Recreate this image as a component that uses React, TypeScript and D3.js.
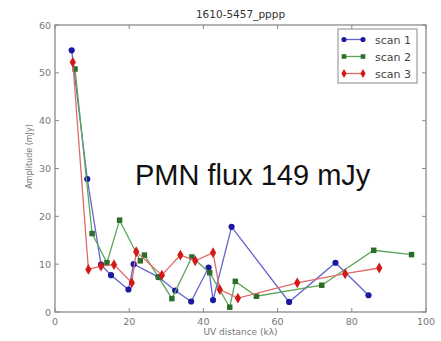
import { scaleLinear, line, symbol, symbolCircle, symbolSquare, symbolDiamond } from "d3";

const W = 441;
const H = 341;
const MARGIN = { top: 25, right: 15, bottom: 29, left: 55 };

const scan1X = [4.5, 8.7, 12.4, 15.1, 19.8, 21.2, 27.9, 32.4, 36.7, 41.4, 42.6, 47.6, 63.1, 75.6, 84.5];
const scan1Y = [54.7, 27.8, 9.9, 7.7, 4.7, 10.0, 7.3, 4.5, 2.2, 9.3, 2.5, 17.8, 2.1, 10.3, 3.5];

const scan2X = [5.4, 10.0, 14.0, 17.4, 23.0, 24.1, 27.9, 31.5, 36.9, 41.7, 47.1, 48.6, 54.3, 71.9, 85.9, 96.1];
const scan2Y = [50.8, 16.4, 10.3, 19.2, 10.7, 11.9, 7.3, 2.8, 11.5, 8.2, 1.0, 6.4, 3.3, 5.6, 12.9, 12.0];

const scan3X = [4.8, 9.0, 12.4, 15.9, 20.7, 21.9, 28.8, 33.8, 37.8, 42.6, 44.4, 49.3, 65.3, 78.2, 87.4];
const scan3Y = [52.2, 8.9, 9.6, 9.9, 6.1, 12.6, 7.7, 11.9, 10.7, 12.4, 4.7, 2.9, 6.1, 8.0, 9.2];

const xTicks = [0, 20, 40, 60, 80, 100];
const yTicks = [0, 10, 20, 30, 40, 50, 60];

const SERIES = [
  { name: "scan 1", xs: scan1X, ys: scan1Y, marker: "#1a1aa0", stroke: "#6464cc", shape: symbolCircle, size: 30 },
  { name: "scan 2", xs: scan2X, ys: scan2Y, marker: "#2a6e2a", stroke: "#5aa65a", shape: symbolSquare, size: 30 },
  { name: "scan 3", xs: scan3X, ys: scan3Y, marker: "#d41818", stroke: "#e06a6a", shape: symbolDiamond, size: 34 },
];

const TICK_FONT = "DejaVu Sans, sans-serif";

export default function App() {
  const x0 = MARGIN.left;
  const x1 = W - MARGIN.right;
  const y0 = H - MARGIN.bottom;
  const y1 = MARGIN.top;
  const xScale = scaleLinear().domain([0, 100]).range([x0, x1]);
  const yScale = scaleLinear().domain([0, 60]).range([y0, y1]);
  const lineGen = line<[number, number]>()
    .x((d) => xScale(d[0]))
    .y((d) => yScale(d[1]));

  return (
    <div style={{ position: "fixed", left: 0, top: 0 }}>
      <svg width={W} height={H} style={{ display: "block", background: "#fff" }}>
        {/* series */}
        {SERIES.map((s) => {
          const pts = s.xs.map((x, i) => [x, s.ys[i]] as [number, number]);
          const sym = symbol().type(s.shape).size(s.size)();
          return (
            <g key={s.name}>
              <path d={lineGen(pts) ?? ""} fill="none" stroke={s.stroke} strokeWidth={1.3} />
              {pts.map((p, i) => (
                <path key={i} d={sym ?? ""} transform={`translate(${xScale(p[0])},${yScale(p[1])})`} fill={s.marker} />
              ))}
            </g>
          );
        })}

        {/* frame */}
        <rect x={x0} y={y1} width={x1 - x0} height={y0 - y1} fill="none" stroke="#8a8a8a" strokeWidth={1.3} />

        {/* x ticks */}
        {xTicks.map((t) => (
          <g key={"x" + t}>
            <line x1={xScale(t)} x2={xScale(t)} y1={y0} y2={y0 - 4} stroke="#8a8a8a" />
            <line x1={xScale(t)} x2={xScale(t)} y1={y1} y2={y1 + 4} stroke="#8a8a8a" />
            <text x={xScale(t)} y={y0 + 13} textAnchor="middle" fontSize={9.5} fill="#777" fontFamily={TICK_FONT}>
              {t}
            </text>
          </g>
        ))}

        {/* y ticks */}
        {yTicks.map((t) => (
          <g key={"y" + t}>
            <line x1={x0} x2={x0 + 4} y1={yScale(t)} y2={yScale(t)} stroke="#8a8a8a" />
            <line x1={x1} x2={x1 - 4} y1={yScale(t)} y2={yScale(t)} stroke="#8a8a8a" />
            <text x={x0 - 4} y={yScale(t) + 3.5} textAnchor="end" fontSize={9.5} fill="#777" fontFamily={TICK_FONT}>
              {t}
            </text>
          </g>
        ))}

        {/* title and axis labels */}
        <text x={(x0 + x1) / 2} y={18} textAnchor="middle" fontSize={10.5} fill="#333" fontFamily={TICK_FONT}>
          1610-5457_pppp
        </text>
        <text x={(x0 + x1) / 2} y={335} textAnchor="middle" fontSize={9} fill="#777" fontFamily={TICK_FONT}>
          UV distance (kλ)
        </text>
        <text
          transform={`translate(32,${(y0 + y1) / 2 - 12}) rotate(-90)`}
          textAnchor="middle"
          fontSize={8}
          fill="#777"
          fontFamily={TICK_FONT}
        >
          Amplitude (mJy)
        </text>

        {/* annotation */}
        <text x={135} y={185} fontSize={29} fill="#111" fontFamily="Liberation Sans, Arial, sans-serif">
          PMN flux 149 mJy
        </text>

        {/* legend */}
        <g>
          <rect x={338} y={29} width={79} height={54} fill="#fff" stroke="#8a8a8a" strokeWidth={1} />
          {SERIES.map((s, i) => {
            const ly = 39.5 + i * 17;
            const sym = symbol().type(s.shape).size(s.size * 0.7)();
            return (
              <g key={s.name}>
                <line x1={344} x2={363} y1={ly} y2={ly} stroke={s.stroke} strokeWidth={1.3} />
                <path d={sym ?? ""} transform={`translate(344,${ly})`} fill={s.marker} />
                <path d={sym ?? ""} transform={`translate(363,${ly})`} fill={s.marker} />
                <text x={375} y={ly + 4} fontSize={11} fill="#444" fontFamily={TICK_FONT}>
                  {s.name}
                </text>
              </g>
            );
          })}
        </g>
      </svg>
    </div>
  );
}
